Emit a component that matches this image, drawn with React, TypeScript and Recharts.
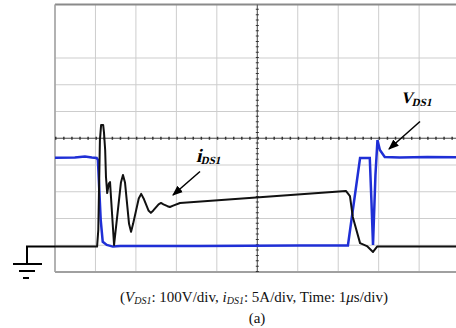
import { LineChart, Line, XAxis, YAxis, CartesianGrid, ReferenceLine } from 'recharts';

// time axis in divisions (1 µs/div), level axis in divisions
const GRID_X = [0, 1, 2, 3, 4, 5, 6, 7, 8, 9, 10];
const GRID_Y = [0, 1, 2, 3, 4, 5, 6, 7, 8, 9, 10];

// V_DS1 (blue) trace
const V_TIME = [0, 0.49, 0.74, 0.91, 1.03, 1.06, 1.13, 1.18, 1.28, 1.43, 1.61, 3.58, 6.05, 7.24, 7.54, 7.78, 7.82, 7.86, 7.92, 7.97, 8.03, 8.15, 8.52, 9.2, 10];
const V_LEVEL = [4.27, 4.28, 4.32, 4.28, 4.26, 4.19, 1.94, 1.13, 1.01, 0.95, 0.97, 0.97, 0.99, 0.99, 4.26, 4.26, 2.69, 1.01, 3.62, 4.93, 4.56, 4.3, 4.28, 4.3, 4.29];

// i_DS1 (black) trace
const I_TIME = [
  0, 1.04, 1.07, 1.11, 1.14, 1.19, 1.21, 1.24, 1.26, 1.29, 1.33, 1.36, 1.46,
  1.63, 1.68, 1.73, 1.83, 1.88, 1.93, 2.07, 2.13, 2.19, 2.31, 2.37, 2.43,
  2.56, 2.62, 2.68, 2.78, 2.84, 2.92, 3.09, 7.19, 7.29, 7.36, 7.54, 7.71, 7.86, 7.96, 8.28, 10,
];
const I_LEVEL = [
  0.95, 0.95, 1.57, 4.93, 5.5, 5.5, 5.23, 4.56, 3.55, 2.95, 3.3, 3.36, 1.01,
  3.35, 3.63, 3.35, 1.8, 1.5, 1.8, 2.75, 2.92, 2.75, 2.3, 2.21, 2.3,
  2.53, 2.58, 2.53, 2.46, 2.43, 2.48, 2.58, 3.03, 2.84, 2.06, 1.08, 0.97, 0.75, 0.95, 0.95, 0.95,
];

const vData = V_TIME.map((x, i) => ({ x, y: V_LEVEL[i] }));
const iData = I_TIME.map((x, i) => ({ x, y: I_LEVEL[i] }));

const SERIF = '"Liberation Serif", "Times New Roman", serif';

export default function App() {
  return (
    <div
      style={{
        position: 'fixed',
        left: 0,
        top: 0,
        width: 456,
        height: 328,
        overflow: 'hidden',
        background: '#fff',
      }}
    >
      <LineChart
        width={470}
        height={328}
        margin={{ top: 4.5, left: 55, right: 10.4, bottom: 56 }}
      >
        <XAxis type="number" dataKey="x" domain={[0, 10]} ticks={GRID_X} hide />
        <YAxis type="number" dataKey="y" domain={[0, 10]} ticks={GRID_Y} hide />
        <CartesianGrid stroke="#cdcdcd" strokeWidth={1} />
        {/* frame */}
        <ReferenceLine y={10} stroke="#8a8a8a" strokeWidth={2} />
        <ReferenceLine y={0} stroke="#a0a0a0" strokeWidth={2} />
        <ReferenceLine x={0} stroke="#a0a0a0" strokeWidth={1.5} />
        {/* center axes with minor ticks */}
        <ReferenceLine y={5} stroke="#555" strokeWidth={1} />
        <ReferenceLine y={5} stroke="#333" strokeWidth={3} strokeDasharray="1.5 6.59" />
        <ReferenceLine x={5} stroke="#555" strokeWidth={1} />
        <ReferenceLine x={5} stroke="#333" strokeWidth={3} strokeDasharray="1 4.35" />
        <Line
          data={vData}
          dataKey="y"
          type="linear"
          stroke="#1f2fd6"
          strokeWidth={2.5}
          dot={false}
          isAnimationActive={false}
        />
        <Line
          data={iData}
          dataKey="y"
          type="linear"
          stroke="#111"
          strokeWidth={2}
          strokeLinejoin="round"
          dot={false}
          isAnimationActive={false}
        />
      </LineChart>

      <svg
        width={456}
        height={328}
        style={{ position: 'absolute', left: 0, top: 0, pointerEvents: 'none' }}
      >
        <defs>
          <marker id="arrow" viewBox="0 0 10 10" refX="9" refY="5" markerWidth="7" markerHeight="7" orient="auto">
            <path d="M0,1 L10,5 L0,9 Z" fill="#000" />
          </marker>
        </defs>

        {/* ground symbol */}
        <g stroke="#000" strokeWidth={2} fill="none">
          <path d="M55,246.5 L27,246.5 L27,264" />
          <path d="M13,264 L42,264" />
          <path d="M19,271 L35,271" />
          <path d="M23,278 L29,278" />
        </g>

        {/* i_DS1 label (bold serif, slanted) */}
        <g transform="translate(196,162) skewX(-13)">
          <text x={0} y={0} fontFamily={SERIF} fontWeight="bold" fontSize={19}>
            i
            <tspan fontSize={11} dy={2}>DS1</tspan>
          </text>
        </g>
        <line x1={200} y1={171.5} x2={173} y2={195} stroke="#000" strokeWidth={1.5} markerEnd="url(#arrow)" />

        {/* V_DS1 label */}
        <g transform="translate(401,103) skewX(-13)">
          <text x={0} y={0} fontFamily={SERIF} fontWeight="bold" fontSize={16}>
            V
            <tspan fontSize={11} dy={3}>DS1</tspan>
          </text>
        </g>
        <line x1={420} y1={121.5} x2={389} y2={149} stroke="#000" strokeWidth={1.5} markerEnd="url(#arrow)" />

        {/* caption */}
        <text x={254} y={302} textAnchor="middle" fontFamily={SERIF} fontSize={15} fill="#111">
          (<tspan fontStyle="italic">V</tspan>
          <tspan fontStyle="italic" fontSize={10} dy={2}>DS1</tspan>
          <tspan dy={-2}>: 100V/div, </tspan>
          <tspan fontStyle="italic">i</tspan>
          <tspan fontStyle="italic" fontSize={10} dy={2}>DS1</tspan>
          <tspan dy={-2}>: 5A/div, Time: 1</tspan>
          <tspan fontStyle="italic">μ</tspan>
          <tspan>s/div)</tspan>
        </text>
        <text x={257} y={323} textAnchor="middle" fontFamily={SERIF} fontSize={15} fill="#111">
          (a)
        </text>
      </svg>
    </div>
  );
}
